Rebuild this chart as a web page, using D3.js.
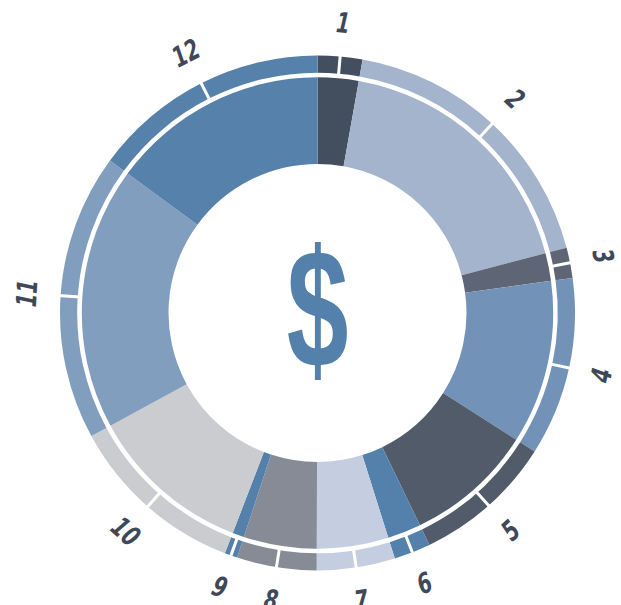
<!DOCTYPE html>
<html lang="en">
  <head>
    <meta charset="UTF-8" />
    <title>Donut: monthly spending</title>
    <script src="https://d3js.org/d3.v7.min.js"></script>
    <style>
      body {
        margin: 0;
        background: #fff;
      }
      .label {
        font-family: "Liberation Sans Narrow", "DejaVu Sans Condensed", sans-serif;
        font-weight: bold;
        font-style: italic;
        font-size: 28px;
        fill: #3e4858;
      }
      .dollar {
        font-family: "Liberation Sans Narrow", sans-serif;
        font-weight: bold;
        font-size: 168px;
        fill: #5481ab;
      }
    </style>
  </head>
  <body>
    <svg id="chart" width="621" height="605"></svg>

    <script>
      // months and their shares
      const months = ["1", "2", "3", "4", "5", "6", "7", "8", "9", "10", "11", "12"];
      const values = [2.8, 18.1, 1.9, 11.2, 8.8, 2.3, 4.9, 5.0, 0.8, 11.2, 18.0, 14.9];
      const palette = [
        "#434f5f", "#a3b4cc", "#5e6574", "#7292b8", "#525b6a", "#5481ab",
        "#c5cee0", "#878b96", "#5481ab", "#cbccd0", "#819ebe", "#5581aa"
      ];

      const svg = d3.select("#chart");
      const cx = 317.5, cy = 313;
      const g = svg.append("g").attr("transform", `translate(${cx},${cy})`);

      const color = d3.scaleOrdinal().domain(months).range(palette);

      const pie = d3.pie().sort(null).value((d) => d.value);
      const arcs = pie(months.map((m, i) => ({ month: m, value: values[i] })));

      const innerArc = d3.arc().innerRadius(149).outerRadius(235.7);
      const ringArc = d3.arc().innerRadius(240.3).outerRadius(257.5);

      // main donut
      g.selectAll(".slice")
        .data(arcs)
        .enter()
        .append("path")
        .attr("class", "slice")
        .attr("d", innerArc)
        .attr("fill", (d) => color(d.data.month));

      // outer ring
      g.selectAll(".ring")
        .data(arcs)
        .enter()
        .append("path")
        .attr("class", "ring")
        .attr("d", ringArc)
        .attr("fill", (d) => color(d.data.month));

      // white tick splitting each ring piece in half
      const mid = (d) => (d.startAngle + d.endAngle) / 2;
      g.selectAll(".split")
        .data(arcs)
        .enter()
        .append("line")
        .attr("x1", (d) => 238 * Math.sin(mid(d)))
        .attr("y1", (d) => -238 * Math.cos(mid(d)))
        .attr("x2", (d) => 260 * Math.sin(mid(d)))
        .attr("y2", (d) => -260 * Math.cos(mid(d)))
        .attr("stroke", "#fff")
        .attr("stroke-width", 3);

      // labels, turned along the circle
      g.selectAll(".label")
        .data(arcs)
        .enter()
        .append("text")
        .attr("class", "label")
        .attr("text-anchor", "middle")
        .attr("dominant-baseline", "central")
        .attr("transform", (d) => {
          const a = mid(d);
          const deg = (a * 180) / Math.PI;
          const rot = deg > 90 && deg < 270 ? deg - 180 : deg > 270 ? deg - 360 : deg;
          return `translate(${291 * Math.sin(a)},${-291 * Math.cos(a)}) rotate(${rot}) scale(0.78,1)`;
        })
        .text((d) => d.data.month);

      // centre symbol
      g.append("text")
        .attr("class", "dollar")
        .attr("text-anchor", "middle")
        .attr("dominant-baseline", "central")
        .attr("transform", "translate(0,-4) scale(0.66,1)")
        .text("$");
    </script>
  </body>
</html>
